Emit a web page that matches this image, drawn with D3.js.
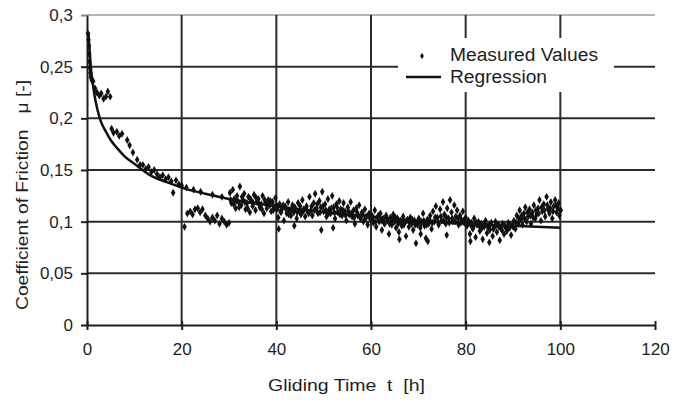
<!DOCTYPE html>
<html>
<head>
<meta charset="utf-8">
<script src="https://cdn.jsdelivr.net/npm/d3@7"></script>
<style>
  body { margin: 0; background: #fff; }
  text { font-family: "Liberation Sans", Arial, sans-serif; fill: #1e1e1e; }
</style>
</head>
<body>
<div id="canvas"></div>
<script>
// axis ticks
let xTicks = [0, 20, 40, 60, 80, 100, 120];
let yTicks = [0, 0.05, 0.1, 0.15, 0.2, 0.25, 0.3];
let yTickLabels = ["0", "0,05", "0,1", "0,15", "0,2", "0,25", "0,3"];

// regression curve
let regT  = [0.3, 0.5, 0.8, 1.2, 1.8, 2.7, 4, 5, 6.6, 8, 10, 13.7, 17, 20, 25, 30, 35, 40, 50, 60, 70, 80, 90, 100];
let regMu = [0.283, 0.27, 0.25, 0.234, 0.217, 0.2, 0.187, 0.179, 0.17, 0.163, 0.156, 0.144, 0.138, 0.133, 0.127, 0.122, 0.118, 0.115, 0.109, 0.105, 0.101, 0.098, 0.096, 0.094];

// measured values [t, mu]
let measured = [
  [0.2,0.282],[0.3,0.276],[0.4,0.27],[0.45,0.262],[0.5,0.255],[0.6,0.249],[0.7,0.244],[0.8,0.24],[1.0,0.237],
  [1.3,0.236],[1.7,0.229],[2.1,0.225],[2.6,0.222],[3.0,0.224],[3.5,0.219],[4.0,0.221],[4.4,0.226],[4.9,0.221],
  [5.2,0.19],[5.6,0.186],[6.3,0.187],[6.8,0.183],[7.4,0.185],[8.5,0.179],[9.0,0.174],[9.7,0.167],
  [10.6,0.16],[11.2,0.155],[11.8,0.155],[12.4,0.151],[13.0,0.153],[13.6,0.148],[14.2,0.15],[14.8,0.146],[15.4,0.143],
  [16.0,0.145],[16.6,0.141],[17.2,0.143],[17.8,0.139],[18.2,0.128],[18.8,0.14],[19.4,0.136],[20.0,0.135],
  [20.6,0.095],[21.2,0.108],[21.8,0.11],[22.3,0.107],[22.8,0.112],[23.4,0.113],[23.9,0.109],[24.4,0.112],
  [25.0,0.106],[25.5,0.103],[26.0,0.1],[26.5,0.104],[27.0,0.101],[27.5,0.106],[28.0,0.098],[28.5,0.103],
  [29.0,0.1],[29.5,0.097],[30.0,0.099],
  [21.0,0.133],[22.5,0.131],[24.0,0.129],[26.5,0.126],[28.5,0.124],
  [30.2,0.128],[30.5,0.118],[30.8,0.131],[31.1,0.122],[31.4,0.113],[31.7,0.125],[32.0,0.119],[32.3,0.134],
  [32.6,0.116],[32.9,0.121],[33.2,0.127],[33.5,0.112],[33.8,0.118],[34.1,0.124],[34.4,0.109],[34.7,0.12],
  [35.0,0.115],[35.3,0.126],[35.6,0.111],[35.9,0.119],[36.2,0.122],[36.5,0.114],[36.8,0.117],[37.1,0.125],
  [37.4,0.108],[37.7,0.118],[38.0,0.113],[38.3,0.121],[38.6,0.116],[38.9,0.11],[39.2,0.119],[39.5,0.114],[39.8,0.123],
  [30.35,0.121],[30.95,0.117],[31.55,0.12],[32.15,0.114],[32.75,0.124],[33.35,0.119],[33.95,0.113],[34.55,0.122],
  [35.15,0.118],[35.75,0.123],[36.35,0.117],[36.95,0.112],[37.55,0.121],[38.15,0.117],[38.75,0.12],[39.35,0.111],[39.95,0.116],
  [40.1,0.112],[40.4,0.104],[40.7,0.117],[41.0,0.109],[41.3,0.113],[41.6,0.101],[41.9,0.115],[42.2,0.108],
  [42.5,0.119],[42.8,0.111],[43.1,0.106],[43.4,0.116],[43.7,0.109],[44.0,0.113],[44.3,0.103],[44.6,0.118],
  [44.9,0.11],[45.2,0.107],[45.5,0.121],[45.8,0.112],[46.1,0.105],[46.4,0.115],[46.7,0.109],[47.0,0.124],
  [47.3,0.111],[47.6,0.106],[47.9,0.118],[48.2,0.127],[48.5,0.113],[48.8,0.108],[49.1,0.12],[49.4,0.114],
  [49.7,0.129],[50.0,0.11],[50.3,0.117],[50.6,0.105],[50.9,0.122],[51.2,0.112],[51.5,0.108],[51.8,0.125],
  [52.1,0.114],[52.4,0.103],[52.7,0.117],[53.0,0.109],[53.3,0.12],[53.6,0.112],[53.9,0.106],[54.2,0.118],
  [54.5,0.11],[54.8,0.101],[55.1,0.114],[55.4,0.107],[55.7,0.119],[56.0,0.105],[56.3,0.111],[56.6,0.098],
  [56.9,0.113],[57.2,0.106],[57.5,0.116],[57.8,0.103],[58.1,0.109],[58.4,0.1],[58.7,0.112],[59.0,0.105],
  [59.3,0.097],[59.6,0.108],[59.9,0.102],
  [40.5,0.093],[43.8,0.096],[52.0,0.094],[49.5,0.092],
  [40.25,0.114],[40.85,0.11],[41.45,0.116],[42.05,0.112],[42.65,0.107],[43.25,0.112],[43.85,0.114],[44.45,0.109],
  [45.05,0.115],[45.65,0.11],[46.25,0.113],[46.85,0.108],[47.45,0.115],[48.05,0.111],[48.65,0.117],[49.25,0.109],
  [49.85,0.115],[50.45,0.111],[51.05,0.108],[51.65,0.113],[52.25,0.109],[52.85,0.114],[53.45,0.107],[54.05,0.111],
  [54.65,0.106],[55.25,0.11],[55.85,0.108],[56.45,0.104],[57.05,0.109],[57.65,0.105],[58.25,0.107],[58.85,0.103],[59.45,0.106],
  [60.2,0.106],[60.5,0.099],[60.8,0.111],[61.1,0.095],[61.4,0.104],[61.7,0.1],[62.0,0.108],[62.3,0.092],
  [62.6,0.103],[62.9,0.098],[63.2,0.106],[63.5,0.101],[63.8,0.088],[64.1,0.104],[64.4,0.097],[64.7,0.107],
  [65.0,0.1],[65.3,0.094],[65.6,0.103],[65.9,0.09],[66.2,0.101],[66.5,0.096],[66.8,0.105],[67.1,0.099],
  [67.4,0.086],[67.7,0.102],[68.0,0.095],[68.3,0.104],[68.6,0.098],[68.9,0.092],[69.2,0.101],[69.5,0.079],
  [69.8,0.097],[70.1,0.103],[70.4,0.094],[70.7,0.1],[71.0,0.108],[71.3,0.096],[71.6,0.084],[71.9,0.102],
  [72.2,0.098],[72.5,0.106],[72.8,0.093],[73.1,0.11],[73.4,0.1],[73.7,0.115],[74.0,0.104],[74.3,0.097],
  [74.6,0.112],[74.9,0.101],[75.2,0.119],[75.5,0.107],[75.8,0.098],[76.1,0.113],[76.4,0.103],[76.7,0.121],
  [77.0,0.109],[77.3,0.1],[77.6,0.116],[77.9,0.105],[78.2,0.111],[78.5,0.097],[78.8,0.106],[79.1,0.102],
  [79.4,0.11],[79.7,0.099],
  [66.0,0.083],[72.0,0.081],[76.0,0.087],[70.5,0.088],
  [60.35,0.103],[60.95,0.1],[61.55,0.106],[62.15,0.101],[62.75,0.099],[63.35,0.103],[63.95,0.098],[64.55,0.101],
  [65.15,0.104],[65.75,0.098],[66.35,0.1],[66.95,0.097],[67.55,0.101],[68.15,0.099],[68.75,0.102],[69.35,0.097],
  [69.95,0.1],[70.55,0.098],[71.15,0.101],[71.75,0.097],[72.35,0.102],[72.95,0.099],[73.55,0.104],[74.15,0.1],
  [74.75,0.105],[75.35,0.101],[75.95,0.104],[76.55,0.099],[77.15,0.103],[77.75,0.1],[78.35,0.103],[78.95,0.099],[79.55,0.101],
  [80.0,0.104],[80.3,0.096],[80.6,0.101],[80.9,0.088],[81.2,0.099],[81.5,0.093],[81.8,0.103],[82.1,0.085],
  [82.4,0.097],[82.7,0.1],[83.0,0.091],[83.3,0.098],[83.6,0.083],[83.9,0.095],[84.2,0.101],[84.5,0.089],
  [84.8,0.096],[85.1,0.092],[85.4,0.099],[85.7,0.086],[86.0,0.094],[86.3,0.1],[86.6,0.09],[86.9,0.097],
  [87.2,0.082],[87.5,0.093],[87.8,0.098],[88.1,0.088],[88.4,0.095],[88.7,0.091],[89.0,0.099],[89.3,0.094],
  [89.6,0.087],[89.9,0.096],[90.2,0.101],[90.5,0.093],[90.8,0.106],[91.1,0.098],[91.4,0.111],[91.7,0.102],
  [92.0,0.097],[92.3,0.108],[92.6,0.114],[92.9,0.1],[93.2,0.105],[93.5,0.112],[93.8,0.098],[94.1,0.109],
  [94.4,0.116],[94.7,0.103],[95.0,0.107],[95.3,0.113],[95.6,0.121],[95.9,0.101],[96.2,0.11],[96.5,0.117],
  [96.8,0.105],[97.1,0.124],[97.4,0.112],[97.7,0.108],[98.0,0.119],[98.3,0.103],[98.6,0.115],[98.9,0.121],
  [99.2,0.109],[99.5,0.113],[99.8,0.106],[100.1,0.111],
  [81.0,0.081],[85.0,0.08],
  [80.45,0.099],[81.05,0.097],[81.65,0.095],[82.25,0.099],[82.85,0.096],[83.45,0.094],[84.05,0.098],[84.65,0.095],
  [85.25,0.097],[85.85,0.093],[86.45,0.097],[87.05,0.095],[87.65,0.092],[88.25,0.096],[88.85,0.094],[89.45,0.097],
  [90.05,0.095],[90.65,0.099],[91.25,0.103],[91.85,0.106],[92.45,0.103],[93.05,0.109],[93.65,0.106],[94.25,0.104],
  [94.85,0.111],[95.45,0.108],[96.05,0.114],[96.65,0.111],[97.25,0.116],[97.85,0.113],[98.45,0.11],[99.05,0.116],[99.65,0.118]
];

let width = 683, height = 401;

let svg = d3.select("#canvas").append("svg")
    .attr("width", width)
    .attr("height", height);

let x = d3.scaleLinear().domain([0, 120]).range([87, 655]);
let y = d3.scaleLinear().domain([0, 0.3]).range([325, 15]);

// gridlines
svg.append("g").selectAll("line")
    .data(yTicks.filter(d => d > 0))
    .join("line")
    .attr("x1", x(0)).attr("x2", x(120))
    .attr("y1", d => y(d)).attr("y2", d => y(d))
    .attr("stroke", d => d === 0.3 ? "#b5b5b5" : "#2c2c2c")
    .attr("stroke-width", 2);

svg.append("g").selectAll("line")
    .data(xTicks.filter(d => d > 0 && d < 120))
    .join("line")
    .attr("x1", d => x(d)).attr("x2", d => x(d))
    .attr("y1", y(0)).attr("y2", y(0.3))
    .attr("stroke", "#2c2c2c")
    .attr("stroke-width", 2);

// axes
let xAxis = d3.axisBottom(x).tickValues(xTicks).tickSize(5).tickSizeOuter(0).tickPadding(13);
let gx = svg.append("g")
    .attr("transform", `translate(0,${y(0)})`)
    .call(xAxis);
gx.select(".domain").attr("stroke", "#1e1e1e").attr("stroke-width", 2);
gx.selectAll(".tick line").attr("y1", -4).attr("stroke", "#1e1e1e").attr("stroke-width", 2);
gx.selectAll(".tick text").attr("font-size", 17).style("font-family", "Liberation Sans, Arial, sans-serif").attr("fill", "#1e1e1e");

let yAxis = d3.axisLeft(y).tickValues(yTicks).tickSize(6).tickSizeOuter(0).tickPadding(8)
    .tickFormat((d, i) => yTickLabels[i]);
let gy = svg.append("g")
    .attr("transform", `translate(${x(0)},0)`)
    .call(yAxis);
gy.select(".domain").attr("stroke", "#1e1e1e").attr("stroke-width", 2);
gy.selectAll(".tick line").attr("stroke", d => d === 0.3 ? "#888" : "#1e1e1e").attr("stroke-width", 2);
gy.selectAll(".tick text").attr("font-size", 17).style("font-family", "Liberation Sans, Arial, sans-serif").attr("fill", "#1e1e1e");

// measured points
let symbol = d3.symbol().type(d3.symbolDiamond).size(18);
svg.append("g").selectAll("path")
    .data(measured)
    .join("path")
    .attr("transform", d => `translate(${x(d[0])},${y(d[1])})`)
    .attr("d", symbol)
    .attr("fill", "#111");

// regression line
let line = d3.line()
    .x(d => x(d[0]))
    .y(d => y(d[1]))
    .curve(d3.curveMonotoneX);
svg.append("path")
    .datum(regT.map((t, i) => [t, regMu[i]]))
    .attr("d", line)
    .attr("fill", "none")
    .attr("stroke", "#111")
    .attr("stroke-width", 2.5);

// legend
let legend = svg.append("g");
legend.append("rect")
    .attr("x", 398).attr("y", 38)
    .attr("width", 216).attr("height", 54)
    .attr("fill", "#fff");
legend.append("path")
    .attr("transform", "translate(422,56)")
    .attr("d", d3.symbol().type(d3.symbolDiamond).size(12))
    .attr("fill", "#111");
legend.append("line")
    .attr("x1", 406).attr("x2", 441)
    .attr("y1", 77).attr("y2", 77)
    .attr("stroke", "#111").attr("stroke-width", 2.5);
legend.append("text")
    .attr("x", 450).attr("y", 61)
    .attr("font-size", 18)
    .attr("textLength", 148).attr("lengthAdjust", "spacingAndGlyphs")
    .text("Measured Values");
legend.append("text")
    .attr("x", 450).attr("y", 83)
    .attr("font-size", 18)
    .attr("textLength", 97).attr("lengthAdjust", "spacingAndGlyphs")
    .text("Regression");

// axis titles
svg.append("text")
    .attr("x", 268).attr("y", 391)
    .attr("font-size", 17)
    .attr("xml:space", "preserve")
    .attr("textLength", 157).attr("lengthAdjust", "spacingAndGlyphs")
    .text("Gliding Time  t  [h]");

svg.append("text")
    .attr("transform", "translate(28,310) rotate(-90)")
    .attr("font-size", 17)
    .attr("xml:space", "preserve")
    .attr("textLength", 230).attr("lengthAdjust", "spacingAndGlyphs")
    .text("Coefficient of Friction   μ [-]");
</script>
</body>
</html>
